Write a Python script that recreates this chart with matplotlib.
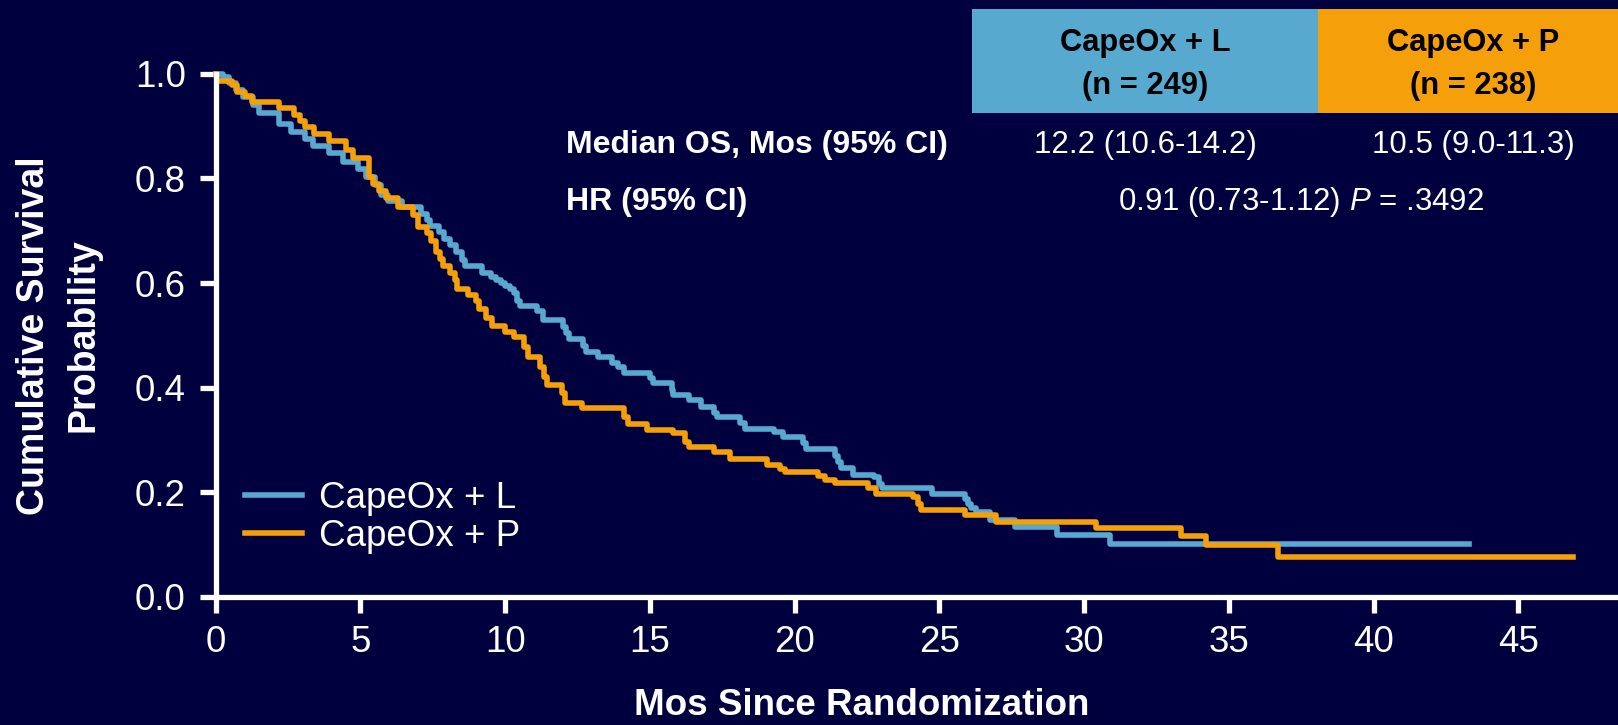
import matplotlib.pyplot as plt
from matplotlib.patches import Rectangle

plt.rcParams['font.family'] = ['Liberation Sans', 'DejaVu Sans']
plt.rcParams['mathtext.fontset'] = 'custom'
plt.rcParams['mathtext.rm'] = 'Liberation Sans'
plt.rcParams['mathtext.it'] = 'Liberation Sans:italic'

bg = '#00003f'
blue = '#58a9cf'
orange = '#f5a00a'

# Kaplan-Meier steps: month of each drop and survival after it
t_l = [0, 0.25, 0.45, 0.7, 0.95, 1.3, 1.5, 2.2, 2.6, 3.1, 3.35, 3.9, 4.4, 4.9, 5.2, 5.5,
       5.7, 5.95, 6.45, 7.1, 7.3, 7.4, 7.7, 7.9, 8.1, 8.3, 8.5, 8.6, 9.2, 9.5, 9.7, 9.85,
       10.0, 10.15, 10.3, 10.4, 10.5, 11.1, 11.3, 12.0, 12.1, 12.2, 12.7, 12.8, 13.2, 13.7,
       13.9, 14.1, 15.0, 15.1, 15.75, 15.8, 16.35, 16.75, 17.2, 17.3, 18.1, 18.3, 19.3,
       19.6, 20.3, 20.4, 21.4, 21.5, 21.6, 22.0, 22.75, 22.9, 23.0, 24.75, 25.9, 26.0,
       26.1, 26.25, 26.75, 27.6, 29.05, 30.9, 43.3]
s_l = [1.0, 0.995, 0.982, 0.969, 0.955, 0.94, 0.925, 0.905, 0.888, 0.875, 0.862, 0.848,
       0.832, 0.818, 0.802, 0.787, 0.768, 0.757, 0.745, 0.733, 0.72, 0.71, 0.698, 0.685,
       0.672, 0.66, 0.645, 0.633, 0.62, 0.612, 0.605, 0.6, 0.595, 0.588, 0.58, 0.565,
       0.556, 0.546, 0.53, 0.515, 0.505, 0.492, 0.48, 0.469, 0.459, 0.447, 0.44, 0.428,
       0.418, 0.409, 0.395, 0.386, 0.376, 0.363, 0.352, 0.344, 0.332, 0.32, 0.315, 0.305,
       0.294, 0.282, 0.27, 0.258, 0.247, 0.232, 0.228, 0.215, 0.207, 0.197, 0.187, 0.178,
       0.17, 0.162, 0.147, 0.134, 0.118, 0.101, 0.101]

t_p = [0, 0.05, 0.55, 0.75, 1.0, 1.25, 2.2, 2.7, 2.9, 3.1, 3.4, 3.9, 4.5, 4.75, 5.3, 5.45,
       5.65, 5.9, 6.3, 6.8, 7.0, 7.3, 7.45, 7.6, 7.75, 7.85, 8.1, 8.25, 8.35, 8.7, 9.0, 9.1,
       9.35, 9.55, 10.0, 10.3, 10.65, 10.8, 11.2, 11.35, 11.45, 11.95, 12.05, 12.65, 14.1,
       14.25, 14.9, 15.8, 16.2, 16.35, 17.2, 17.75, 19.05, 19.5, 19.65, 20.8, 21.05, 21.4,
       22.55, 22.8, 24.1, 24.25, 24.35, 25.9, 26.95, 30.4, 33.35, 34.2, 36.7, 46.9]
s_p = [1.0, 0.987, 0.978, 0.966, 0.957, 0.947, 0.935, 0.922, 0.91, 0.898, 0.885, 0.871,
       0.854, 0.84, 0.803, 0.79, 0.777, 0.762, 0.746, 0.73, 0.708, 0.695, 0.681, 0.66,
       0.646, 0.633, 0.62, 0.605, 0.589, 0.578, 0.565, 0.55, 0.534, 0.517, 0.507, 0.497,
       0.478, 0.459, 0.44, 0.42, 0.405, 0.39, 0.371, 0.361, 0.344, 0.33, 0.319, 0.313,
       0.296, 0.286, 0.277, 0.263, 0.251, 0.245, 0.238, 0.23, 0.224, 0.218, 0.207, 0.197,
       0.19, 0.178, 0.166, 0.157, 0.142, 0.131, 0.116, 0.099, 0.076, 0.076]

arms = ['CapeOx + L', 'CapeOx + P']
n_pts = [249, 238]
median_os = ['12.2 (10.6-14.2)', '10.5 (9.0-11.3)']
hr_text = '0.91 (0.73-1.12) $\\mathit{P}$ = .3492'

fig = plt.figure(figsize=(16.18, 7.25), dpi=100, facecolor=bg)
ax = fig.add_axes([0.1333, 0.177, 0.8667, 0.721])
ax.set_facecolor(bg)

ax.step(t_l, s_l, where='post', color=blue, lw=4, label=arms[0], clip_on=False)
ax.step(t_p, s_p, where='post', color=orange, lw=4, label=arms[1], clip_on=False)

ax.set_xlim(0, 48.44)
ax.set_ylim(0, 1.0)
ax.set_xticks(range(0, 50, 5))
ax.set_yticks([0.0, 0.2, 0.4, 0.6, 0.8, 1.0])
ax.set_yticklabels(['0.0', '0.2', '0.4', '0.6', '0.8', '1.0'])

for side in ['top', 'right']:
    ax.spines[side].set_visible(False)
for side in ['left', 'bottom']:
    ax.spines[side].set_color('white')
    ax.spines[side].set_linewidth(3.8)
ax.spines['left'].set_bounds(0, 1.0)
ax.tick_params(axis='both', colors='white', labelsize=26.5, length=11.5, width=3.8,
               direction='out')
ax.tick_params(axis='x', pad=9)
ax.tick_params(axis='y', pad=10)

leg = ax.legend(loc='center left', bbox_to_anchor=(245 / 1618, (725 - 517.5) / 725),
                bbox_transform=fig.transFigure, frameon=False, fontsize=26.5,
                handlelength=1.55, handletextpad=0.45, labelspacing=0.08,
                borderpad=0, borderaxespad=0)
for txt in leg.get_texts():
    txt.set_color('white')

fig.text(0.0363, 0.5374, 'Cumulative Survival\nProbability', rotation=90,
         ha='center', va='center', ma='center', color='white', fontsize=27,
         fontweight='bold', linespacing=1.45)
fig.text(0.5326, 0.0138, 'Mos Since Randomization', ha='center', va='baseline',
         color='white', fontsize=26.5, fontweight='bold')

# header boxes for the two arms
fig.patches.append(Rectangle((0.6007, 0.8446), 0.2137, 0.1426, transform=fig.transFigure,
                             facecolor=blue, edgecolor='none'))
fig.patches.append(Rectangle((0.8144, 0.8446), 0.1856, 0.1426, transform=fig.transFigure,
                             facecolor=orange, edgecolor='none'))

col_x = [0.7077, 0.9105]
for i in range(2):
    fig.text(col_x[i], 0.9295, arms[i], ha='center', va='baseline', color='black',
             fontsize=22.2, fontweight='bold')
    fig.text(col_x[i], 0.8700, '(n = %d)' % n_pts[i], ha='center', va='baseline',
             color='black', fontsize=22.2, fontweight='bold')
    fig.text(col_x[i], 0.7885, median_os[i], ha='center', va='baseline', color='white',
             fontsize=22.5)

fig.text(0.3500, 0.7885, 'Median OS, Mos (95% CI)', ha='left', va='baseline',
         color='white', fontsize=23, fontweight='bold')
fig.text(0.3500, 0.7103, 'HR (95% CI)', ha='left', va='baseline', color='white',
         fontsize=23, fontweight='bold')
fig.text(0.8042, 0.7103, hr_text, ha='center', va='baseline', color='white', fontsize=22.5)

fig.savefig('out.png', dpi=100, facecolor=bg)
